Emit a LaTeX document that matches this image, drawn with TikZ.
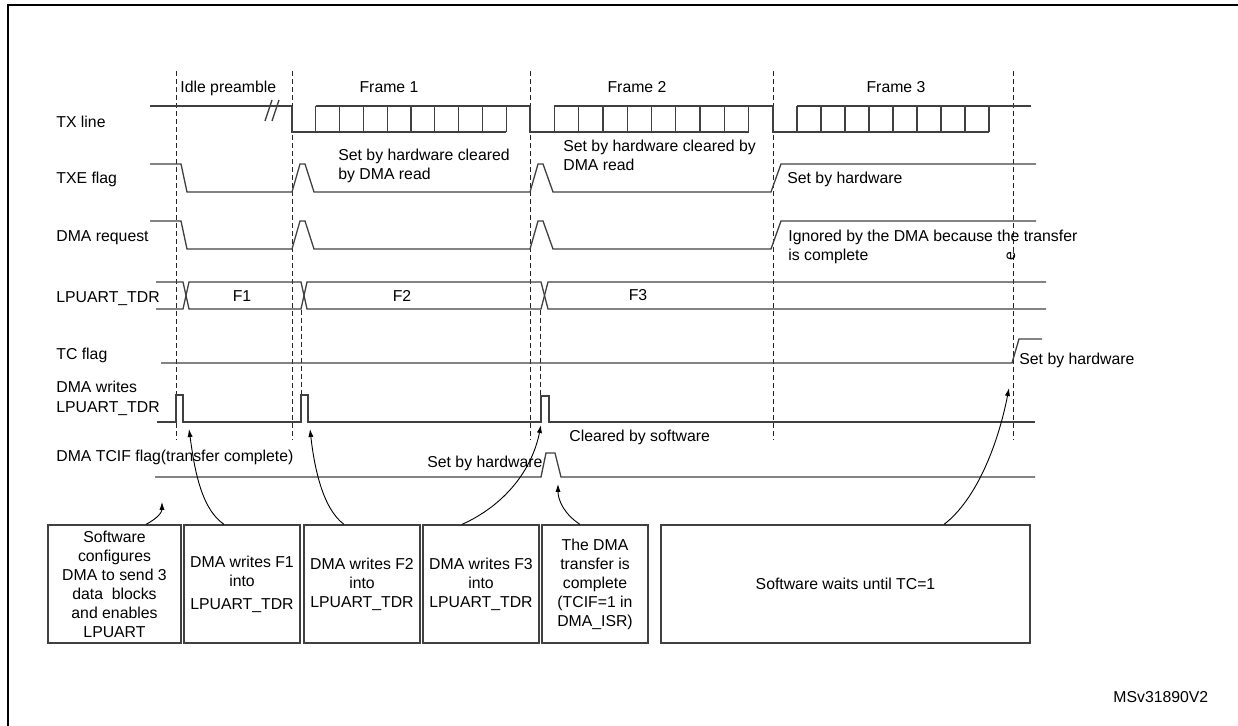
\documentclass[tikz,border=0pt]{standalone}
\usepackage{fontspec}
\setmainfont{Liberation Sans}
\usetikzlibrary{arrows.meta}
\newcommand{\sigfont}{\fontsize{7.9}{9.5}\selectfont}

\begin{document}
\begin{tikzpicture}[x=0.5pt, y=-0.5pt, font=\sigfont,
  wave/.style={draw=black!75, line width=0.65pt},
  grid/.style={draw=black!85, line width=0.5pt, dash pattern=on 2.5pt off 1.5pt},
  sig/.style={anchor=base west, inner sep=0pt},
  note/.style={anchor=north west, inner sep=0pt, align=left},
  box/.style={draw=black!75, line width=0.6pt, minimum height=59pt, align=center, inner sep=0pt},
  ptr/.style={-{Latex[length=4pt,width=2.6pt]}, line width=0.45pt}]
  \useasboundingbox (0,0) rectangle (1238,726);
  \draw[line width=1.2pt] (8,726) -- (8,5) -- (1238,5);

  % time marks
  \foreach \x in {176,292,530,773,1013}
    \draw[grid] (\x,71) -- (\x,440);
  \foreach \x in {301,540}
    \draw[grid] (\x,310) -- (\x,395);

  % signal names
  \node[sig] (ltx)   at (56,128) {TX line};
  \node[sig] (ltxe)  at (56,184) {TXE flag};
  \node[sig] (lreq)  at (56,242) {DMA request};
  \node[sig] (ltdr)  at (56,303) {LPUART\_TDR};
  \node[sig] (ltc)   at (56,360) {TC flag};
  \node[sig] (lwr)   at (56,393) {DMA writes};
  \node[sig] (lwr2)  at (56,413) {LPUART\_TDR};
  \node[sig] (ltcif) at (56,462) {DMA TCIF flag(transfer complete)};

  % TX line
  \node[sig] (idle) at (180,93) {Idle preamble};
  \node[anchor=base, inner sep=0pt] (fr1) at (389,93) {Frame 1};
  \node[anchor=base, inner sep=0pt] (fr2) at (637,93) {Frame 2};
  \node[anchor=base, inner sep=0pt] (fr3) at (896,93) {Frame 3};
  \draw[wave] (150,106) -- (292,106);
  \draw[wave] (265,121) -- (272,100) (272,121) -- (279,100);
  \foreach \xa/\w/\xe in {292/23.8/530, 530/24.3/773, 773/24/1031} {
    \draw[wave] (\xa,106) -- (\xa,132) -- (\xa+9*\w,132);
    \draw[wave] (\xa+\w,106) -- (\xe,106);
    \foreach \k in {1,...,9}
      \draw[wave] (\xa+\k*\w,106) -- (\xa+\k*\w,132);
  }

  % TXE flag and DMA request
  \foreach \hi/\lo in {164/192, 221/249}
    \draw[wave] (150,\hi) -- (181,\hi) -- (187,\lo) -- (292,\lo) -- (300,\hi) -- (305,\hi)
      -- (314,\lo) -- (530,\lo) -- (538,\hi) -- (543,\hi) -- (553,\lo) -- (771,\lo)
      -- (781,\hi) -- (1036,\hi);
  \node[note] (n1) at (338,149) {Set by hardware cleared\\by DMA read};
  \node[note] (n2) at (563,140) {Set by hardware cleared by\\DMA read};
  \node[sig] (n3) at (787,184) {Set by hardware};
  \node[note] (n4) at (788,230) {Ignored by the DMA because the transfer\\is complete};
  \node[rotate=90, inner sep=0pt] (stray) at (1011,256) {e};

  % LPUART_TDR
  \draw[wave] (156,282) -- (183,282) -- (189,309) -- (301,309) -- (307,282) -- (541,282)
    -- (548,309) -- (1046,309);
  \draw[wave] (156,309) -- (183,309) -- (189,282) -- (301,282) -- (307,309) -- (541,309)
    -- (548,282) -- (1046,282);
  \node[anchor=base, inner sep=0pt] (f1) at (242,302) {F1};
  \node[anchor=base, inner sep=0pt] (f2) at (402,302) {F2};
  \node[anchor=base, inner sep=0pt] (f3) at (638,301) {F3};

  % TC flag
  \draw[wave] (161,363) -- (1012,363) -- (1019,339) -- (1042,339);
  \node[sig] (n5) at (1019,365) {Set by hardware};

  % DMA writes
  \draw[wave] (157,422) -- (176,422) -- (176,395) -- (183,395) -- (183,422) -- (301,422)
    -- (301,395) -- (308,395) -- (308,422) -- (541,422) -- (541,396) -- (549,396)
    -- (549,422) -- (1035,422);
  \node[sig] (n6) at (569,442) {Cleared by software};

  % DMA TCIF
  \draw[wave] (155,477) -- (541,477) -- (546,453) -- (555,453) -- (561,477) -- (1035,477);
  \node[sig] (n7) at (427,468) {Set by hardware};

  % software / DMA steps
  \node[box, minimum width=66.5pt] (b1) at (114.5,584)
    {Software\\configures\\DMA to send 3\\data\ \ blocks\\and enables\\LPUART};
  \node[box, minimum width=58pt] (b2) at (242,584) {DMA writes F1\\into\\[2pt]LPUART\_TDR};
  \node[box, minimum width=58pt] (b3) at (362,584) {DMA writes F2\\into\\LPUART\_TDR};
  \node[box, minimum width=58pt] (b4) at (481,584) {DMA writes F3\\into\\LPUART\_TDR};
  \node[box, minimum width=53pt] (b5) at (595,584)
    {The DMA\\transfer is\\complete\\(TCIF=1 in\\DMA\_ISR)};
  \node[box, minimum width=184.5pt] (b6) at (845.5,584) {Software waits until TC=1};

  \coordinate (pA) at (162,502);
  \coordinate (pB) at (189,429);
  \coordinate (pC) at (310,429);
  \coordinate (pD) at (541,425);
  \coordinate (pE) at (558,484);
  \coordinate (pF) at (1009,388);
  \draw[ptr] ([xshift=15.75pt]b1.north) .. controls (158,518) and (162,512) .. (pA);
  \draw[ptr] ([xshift=-9pt]b2.north) .. controls (200,508) and (194,465) .. (pB);
  \draw[ptr] ([xshift=-9pt]b3.north) .. controls (322,508) and (314,465) .. (pC);
  \draw[ptr] ([xshift=-9.5pt]b4.north) .. controls (505,505) and (532,470) .. (pD);
  \draw[ptr] ([xshift=-7.5pt]b5.north) .. controls (564,514) and (558,500) .. (pE);
  \draw[ptr] ([xshift=49.25pt]b6.north) .. controls (976,500) and (998,445) .. (pF);

  \node[sig] (id) at (1113,703) {MSv31890V2};
\end{tikzpicture}
\end{document}
